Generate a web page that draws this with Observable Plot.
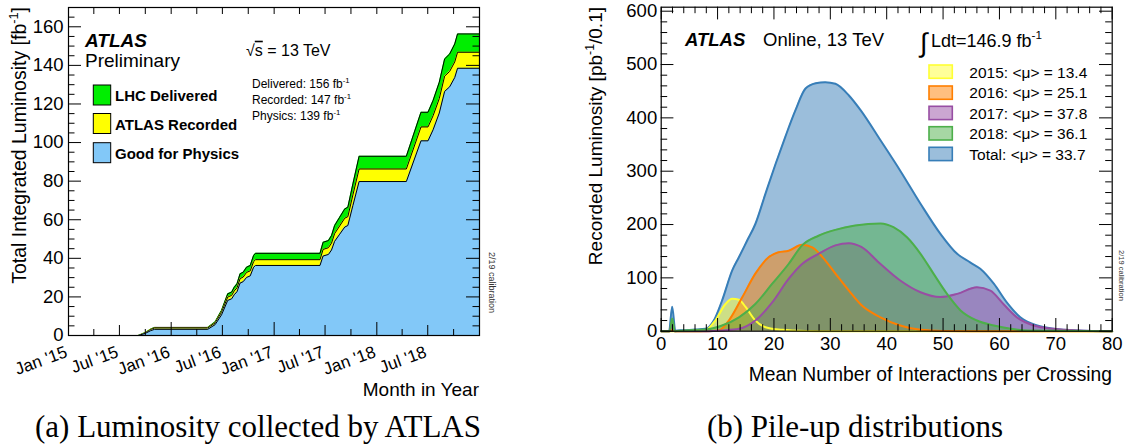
<!DOCTYPE html>
<html><head><meta charset="utf-8">
<script src="https://cdn.jsdelivr.net/npm/d3@7"></script>
<script src="https://cdn.jsdelivr.net/npm/@observablehq/plot@0.6"></script>
<style>
body{margin:0;background:#fff;}
#wrap{position:relative;width:1127px;height:448px;overflow:hidden;background:#fff;}
#left{position:absolute;left:0;top:0;}
#right{position:absolute;left:560px;top:0;}
.cap{position:absolute;font-family:"Liberation Serif","Times New Roman",serif;font-size:31px;line-height:31px;white-space:nowrap;transform:translateX(-50%);color:#000;}
</style></head><body>
<div id="wrap"><div id="left"></div><div id="right"></div>
<div class="cap" id="capA" style="left:258px;top:411px"></div>
<div class="cap" id="capB" style="left:855px;top:411px"></div>
</div>
<script>
const FONT = '"Liberation Sans", Arial, Helvetica, sans-serif';

// ---------------- Panel (a): cumulative luminosity ----------------
const lumiDates = ["2015-01-01","2015-09-06","2015-10-01","2015-10-20","2015-11-03",
  "2016-05-10","2016-06-05","2016-06-28","2016-07-20","2016-08-03","2016-08-12","2016-08-22","2016-09-02","2016-09-13","2016-09-25","2016-10-08","2016-10-20","2016-10-27",
  "2017-06-13","2017-06-24","2017-07-13","2017-07-24","2017-08-04","2017-08-22","2017-09-09","2017-09-20","2017-10-08","2017-10-30",
  "2018-04-16","2018-06-07","2018-07-02","2018-07-20","2018-08-11","2018-08-30","2018-09-17","2018-10-05","2018-10-15",
  "2019-01-01"];
const lumiDelivered = [0,0,1.5,3.3,4.2, 4.2,7.0,13.0,21.6,22.5,25.0,26.8,32.0,32.8,35.4,36.3,41.5,42.6,
  42.6,48.3,49.2,51.8,57.0,61.3,65.6,66.5,78.6,92.9, 92.9,115.7,115.7,121.8,131.2,143.3,145.9,151.1,156.3, 156.3];
const lumiRecorded = [0,0,1.4,3.1,3.9, 3.9,6.5,12.0,19.9,20.8,23.1,24.7,29.5,30.3,32.7,33.5,38.3,39.3,
  39.3,44.6,45.5,47.9,52.8,56.8,60.8,61.6,72.9,86.3, 86.3,108.1,108.1,113.9,122.8,134.4,136.9,141.8,146.8, 146.8];
const lumiPhysics = [0,0,1.1,2.5,3.2, 3.2,5.6,10.7,18.2,19.0,21.1,22.7,27.2,27.9,30.1,30.9,35.4,36.3,
  36.3,41.2,42.0,44.3,48.8,52.5,56.2,57.0,67.4,79.8, 79.8,100.9,100.9,106.6,115.3,126.5,128.9,133.7,138.5, 138.5];
const monthTickDates = ["2015-01-01","2015-07-01","2016-01-01","2016-07-01","2017-01-01","2017-07-01","2018-01-01","2018-07-01"];
const monthTickLabels = ["Jan '15","Jul '15","Jan '16","Jul '16","Jan '17","Jul '17","Jan '18","Jul '18"];
const lumiYTicks = [0,20,40,60,80,100,120,140,160];
const lumiLegendLabels = ["LHC Delivered","ATLAS Recorded","Good for Physics"];
const lumiLegendColors = ["#00ee00","#ffff00","#82c8f8"];
const lumiTotalLabels = ["Delivered: 156 fb","Recorded: 147 fb","Physics: 139 fb"];

// ---------------- Panel (b): pile-up distributions ----------------
const muTotal  = [0,1.4,1.95,2.5,4,6,7.85,9.33,10.8,12.6,13.8,15.25,16.7,18.5,20.3,22.0,23.8,25.6,27.4,29.1,30.9,33.3,35.4,38.9,42.4,46.0,49.5,52.5,54.8,56.6,59.0,61.3,63.7,66.7,69.6,73.8,80];
const lumTotal = [0,0,46,1,2,3,4.4,20,57.6,114,139,170,201,258,314,364,414,455,465,467,464,442,414,358,301,239,183,145,129,117,89,54,26,10.7,4.5,1.3,0];
const mu2015  = [0,7,7.85,9.6,11.4,12.6,13.8,15.0,16.7,18.5,21.5,25.6,30,80];
const lum2015 = [0,0,1.3,20,51,61,59,45,20,7.5,2.5,0.5,0,0];
const mu2016  = [0,1.5,1.95,2.4,8,10.2,12.0,14.4,16.7,19.1,20.8,22.6,25.0,26.8,28.6,30.9,33.3,35.5,38.9,42.4,46,50,55,80];
const lum2016 = [0,0,3,0,0,1.3,20,64,108,139,148,151,162,157,139,108,76,49,26,10.7,2.5,0.5,0,0];
const mu2017  = [0,1.5,1.95,2.4,8,10.8,13.8,16.7,19.7,22.6,25.0,27.9,30.9,33.3,35.5,38.9,42.4,46.0,49.5,52.5,56.0,58.4,60.7,63.1,66.1,69.6,73.8,80];
const lum2017 = [0,0,20,0,0,1.3,4.4,20,54,98,126,145,161,165,158,126,95,73,64,70,82.5,76,51,26,10.7,4.4,1.3,0];
const mu2018  = [0,1.5,1.95,2.4,4,7.85,10.8,13.8,16.7,19.7,22.6,25.0,27.9,30.9,34.4,38.9,41.2,43.6,46.0,48.3,50.7,53.1,56.0,59.0,62.0,65,80];
const lum2018 = [0,0,24,0,1.5,3,10.7,26,51,89,126,161,179,190,198,202,195,176,145,108,70,39,20,10.7,4.5,1.3,0];
const pileupLabels = ["2015: <μ> = 13.4","2016: <μ> = 25.1","2017: <μ> = 37.8","2018: <μ> = 36.1","Total: <μ> = 33.7"];
const pileupColors = ["#ffff33","#ff7f00","#984ea3","#4daf4a","#377eb8"];
const pileupXTicks = [0,10,20,30,40,50,60,70,80];
const pileupYTicks = [0,100,200,300,400,500,600];

const captionA = "(a) Luminosity collected by ATLAS";
const captionB = "(b) Pile-up distributions";

// ---------------- helpers ----------------
function addText(svg, x, y, segs, o = {}) {
  const size = o.size || 16;
  const t = d3.select(svg).append("text")
    .attr("transform", `translate(${x},${y}) rotate(${o.rotate || 0})`)
    .attr("font-family", o.family || FONT).attr("font-size", size)
    .attr("font-weight", o.weight || "normal").attr("font-style", o.style || "normal")
    .attr("text-anchor", o.anchor || "start").attr("fill", o.fill || "black");
  let pending = 0;
  for (const s of segs) {
    if (typeof s === "string") {
      const ts = t.append("tspan").text(s);
      if (pending) { ts.attr("dy", pending); pending = 0; }
    } else if (s.sup !== undefined) {
      const sh = size * 0.42;
      t.append("tspan").attr("font-size", size * 0.65).attr("dy", -sh).text(s.sup);
      pending = sh;
    } else if (s.over !== undefined) {
      t.append("tspan").attr("text-decoration", "overline").text(s.over);
    }
  }
  return t;
}
function addRect(svg, x, y, w, h, fill, stroke, sw, fo = 1) {
  d3.select(svg).append("rect").attr("x", x).attr("y", y).attr("width", w).attr("height", h)
    .attr("fill", fill).attr("fill-opacity", fo).attr("stroke", stroke).attr("stroke-width", sw);
}

// ---------------- Panel (a) ----------------
const lumiRows = lumiDates.map((d, i) => ({date: new Date(d), delivered: lumiDelivered[i], recorded: lumiRecorded[i], physics: lumiPhysics[i]}));
const W1 = 560, H1 = 410, mL1 = 68, mR1 = 81, mT1 = 7, mB1 = 75;
const pw1 = W1 - mL1 - mR1, ph1 = H1 - mT1 - mB1;
const quarterTicks = d3.utcMonth.every(3).range(new Date("2015-01-01"), new Date("2019-01-02"));
const janTicks = quarterTicks.filter(d => d.getUTCMonth() === 0);
const julTicks = quarterTicks.filter(d => d.getUTCMonth() === 6);
const otherQTicks = quarterTicks.filter(d => d.getUTCMonth() % 6 !== 0);
const yMinor1 = d3.range(0, 171, 5).filter(v => v % 20 !== 0);

const plotA = Plot.plot({
  width: W1, height: H1, marginLeft: mL1, marginRight: mR1, marginTop: mT1, marginBottom: mB1,
  style: {fontFamily: FONT, background: "transparent", color: "black", overflow: "visible"},
  x: {type: "utc", domain: [new Date("2015-01-01"), new Date("2019-01-01")], axis: null},
  y: {domain: [0, 170], axis: null},
  marks: [
    Plot.areaY(lumiRows, {x: "date", y: "delivered", fill: lumiLegendColors[0], curve: "linear"}),
    Plot.lineY(lumiRows, {x: "date", y: "delivered", stroke: "black", strokeWidth: 1}),
    Plot.areaY(lumiRows, {x: "date", y: "recorded", fill: lumiLegendColors[1], curve: "linear"}),
    Plot.lineY(lumiRows, {x: "date", y: "recorded", stroke: "black", strokeWidth: 1}),
    Plot.areaY(lumiRows, {x: "date", y: "physics", fill: lumiLegendColors[2], curve: "linear"}),
    Plot.lineY(lumiRows, {x: "date", y: "physics", stroke: "black", strokeWidth: 1}),
    Plot.tickY(lumiYTicks, {y: d => d, insetRight: pw1 - 13, stroke: "black"}),
    Plot.tickY(lumiYTicks, {y: d => d, insetLeft: pw1 - 13, stroke: "black"}),
    Plot.tickY(yMinor1, {y: d => d, insetRight: pw1 - 6.5, stroke: "black"}),
    Plot.tickY(yMinor1, {y: d => d, insetLeft: pw1 - 6.5, stroke: "black"}),
    Plot.tickX(janTicks, {x: d => d, insetTop: ph1 - 13, stroke: "black"}),
    Plot.tickX(julTicks, {x: d => d, insetTop: ph1 - 10, stroke: "black"}),
    Plot.tickX(otherQTicks, {x: d => d, insetTop: ph1 - 6, stroke: "black"}),
    Plot.tickX(quarterTicks, {x: d => d, insetBottom: ph1 - 7, stroke: "black"}),
    Plot.frame({stroke: "black", strokeWidth: 1.2}),
    Plot.axisY(lumiYTicks, {anchor: "left", tickSize: 0, tickPadding: 5, fontSize: 18.5, label: null}),
    Plot.text(monthTickDates, {x: d => new Date(d), text: (d, i) => monthTickLabels[i], frameAnchor: "bottom",
      dy: 21, rotate: -20, textAnchor: "end", lineAnchor: "bottom", fontSize: 17, fill: "black"})
  ]
});
document.getElementById("left").appendChild(plotA);
{
  const s = plotA;
  addText(s, 26, 7, ["Total Integrated Luminosity [fb", {sup: "-1"}, "]"], {size: 19.5, rotate: -90, anchor: "end"});
  addText(s, 479, 396, ["Month in Year"], {size: 19, anchor: "end"});
  addText(s, 85, 46.7, ["ATLAS"], {size: 19, weight: "bold", style: "italic"});
  addText(s, 85, 66.7, ["Preliminary"], {size: 19});
  addText(s, 246, 55.7, ["√", {over: "s"}, " = 13 TeV"], {size: 16});
  const base = [88.3, 104, 120];
  lumiTotalLabels.forEach((l, i) => addText(s, 252, base[i], [l, {sup: "-1"}], {size: 12}));
  const boxY = [85, 113.5, 142.7], labY = [100.7, 130, 158.7];
  lumiLegendLabels.forEach((l, i) => {
    addRect(s, 93.3, boxY[i], 17.4, 20, lumiLegendColors[i], "black", 1);
    addText(s, 115, labY[i], [l], {size: 15, weight: "bold"});
  });
  addText(s, 488.5, 252, ["2/19 calibration"], {size: 9, rotate: 90, fill: "#333"});
}

// ---------------- Panel (b) ----------------
const OX = 560;
const W2 = 567, H2 = 410, mL2 = 100.7, mR2 = 15.3, mT2 = 6.7, mB2 = 79.3;
const pw2 = W2 - mL2 - mR2, ph2 = H2 - mT2 - mB2;
const seriesMu = [mu2015, mu2016, mu2017, mu2018, muTotal];
const seriesLum = [lum2015, lum2016, lum2017, lum2018, lumTotal];
const pileRows = seriesMu.map((m, k) => m.map((mu, i) => ({mu, v: seriesLum[k][i]})));
const drawOrder = [4, 0, 1, 2, 3];
const xMinor2 = d3.range(0, 81, 2).filter(v => v % 10 !== 0);
const yMinor2 = d3.range(0, 607, 20).filter(v => v % 100 !== 0);

const plotB = Plot.plot({
  width: W2, height: H2, marginLeft: mL2, marginRight: mR2, marginTop: mT2, marginBottom: mB2,
  style: {fontFamily: FONT, background: "transparent", color: "black", overflow: "visible"},
  x: {domain: [0, 80], axis: null},
  y: {domain: [0, 607.5], axis: null},
  marks: [
    ...drawOrder.map(k => Plot.areaY(pileRows[k], {x: "mu", y: "v", fill: pileupColors[k], fillOpacity: 0.5, curve: "monotone-x"})),
    ...drawOrder.map(k => Plot.lineY(pileRows[k], {x: "mu", y: "v", stroke: pileupColors[k], strokeWidth: 2, curve: "monotone-x"})),
    Plot.tickY(pileupYTicks, {y: d => d, insetRight: pw2 - 12.7, stroke: "black"}),
    Plot.tickY(pileupYTicks, {y: d => d, insetLeft: pw2 - 12.7, stroke: "black"}),
    Plot.tickY(yMinor2, {y: d => d, insetRight: pw2 - 6.5, stroke: "black"}),
    Plot.tickY(yMinor2, {y: d => d, insetLeft: pw2 - 6.5, stroke: "black"}),
    Plot.tickX(pileupXTicks, {x: d => d, insetTop: ph2 - 12.7, stroke: "black"}),
    Plot.tickX(pileupXTicks, {x: d => d, insetBottom: ph2 - 12.7, stroke: "black"}),
    Plot.tickX(xMinor2, {x: d => d, insetTop: ph2 - 6.5, stroke: "black"}),
    Plot.tickX(xMinor2, {x: d => d, insetBottom: ph2 - 6.5, stroke: "black"}),
    Plot.frame({stroke: "black", strokeWidth: 1.2}),
    Plot.axisY(pileupYTicks, {anchor: "left", tickSize: 0, tickPadding: 4, fontSize: 18.5, label: null}),
    Plot.axisX(pileupXTicks, {anchor: "bottom", tickSize: 0, tickPadding: 6, fontSize: 18.5, label: null})
  ]
});
document.getElementById("right").appendChild(plotB);
{
  const s = plotB;
  addText(s, 602 - OX, 7, ["Recorded Luminosity [pb", {sup: "-1"}, "/0.1]"], {size: 19, rotate: -90, anchor: "end"});
  addText(s, 1112 - OX, 381, ["Mean Number of Interactions per Crossing"], {size: 19.3, anchor: "end"});
  addText(s, 685 - OX, 45.7, ["ATLAS"], {size: 18.5, weight: "bold", style: "italic"});
  addText(s, 763 - OX, 45.7, ["Online, 13 TeV"], {size: 18.5});
  addText(s, 920 - OX, 52, ["∫"], {size: 27});
  addText(s, 931 - OX, 46.7, ["Ldt=146.9 fb", {sup: "-1"}], {size: 18});
  const boxY = [65, 86, 106.3, 126.7, 147.3], labY = [77.7, 98.3, 118.5, 139, 159.5];
  pileupLabels.forEach((l, i) => {
    addRect(s, 929 - OX, boxY[i], 23.3, 13.3, pileupColors[i], pileupColors[i], 1.6, 0.5);
    addText(s, 969.3 - OX, labY[i], [l], {size: 15.5});
  });
  addText(s, 1119 - OX, 250, ["2/19 calibration"], {size: 7.5, rotate: 90, fill: "#333"});
}

document.getElementById("capA").textContent = captionA;
document.getElementById("capB").textContent = captionB;
</script>
</body></html>
